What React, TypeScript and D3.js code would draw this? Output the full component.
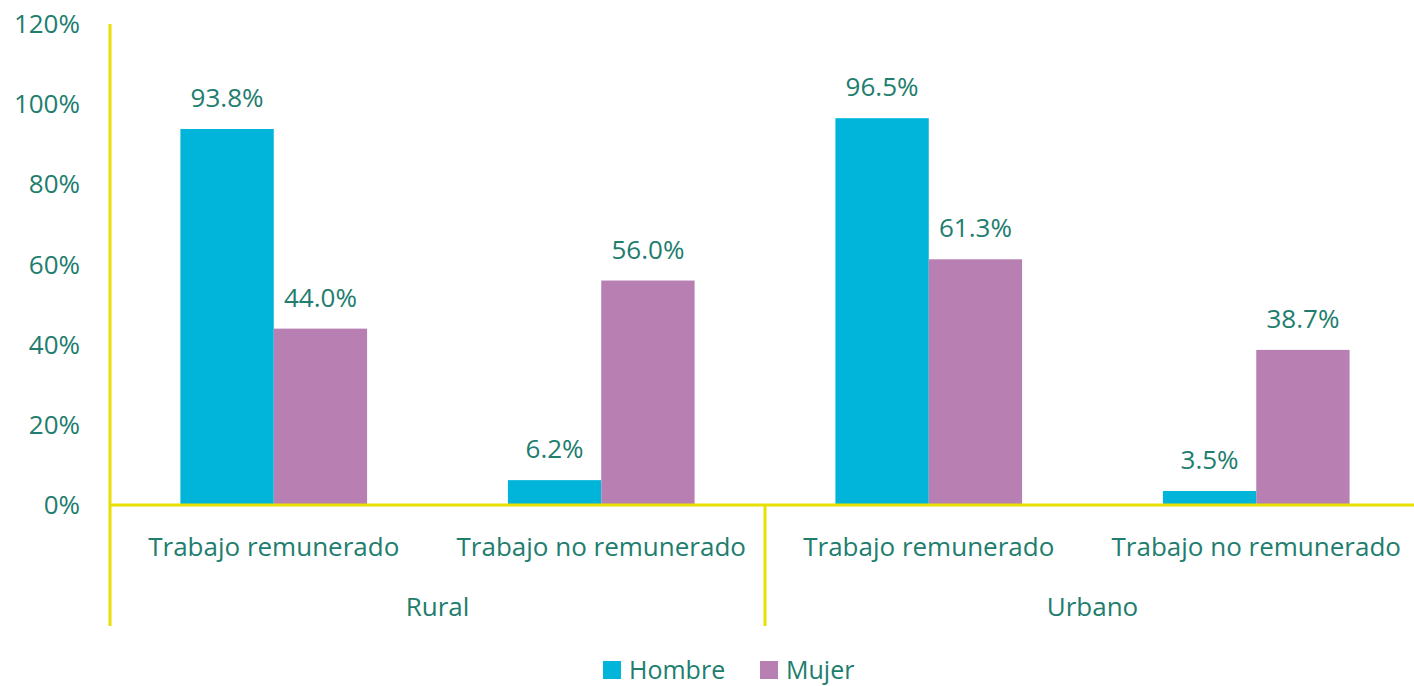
import React from "react";
import * as d3 from "d3";

const groups = ["Rural", "Urbano"];
const categories = ["Trabajo remunerado", "Trabajo no remunerado"];
const seriesNames = ["Hombre", "Mujer"];
const hombre = [93.8, 6.2, 96.5, 3.5];
const mujer = [44.0, 56.0, 61.3, 38.7];
const yTicks = [0, 20, 40, 60, 80, 100, 120];

const W = 1414;
const H = 686;
const left = 110;
const right = 1420;
const top = 24;
const bottom = 505;
const colors = ["#00B5D9", "#B77FB2"];
const textColor = "#217D6E";
const axisColor = "#E8E000";
const font = "'Open Sans', sans-serif";
const fs = 26;

export default function App() {
  const keys = groups.flatMap((g) => categories.map((c) => `${g}|${c}`));
  const x = d3.scaleBand<string>().domain(keys).range([left, right]).paddingInner(0.43).paddingOuter(0.215);
  const xOuter = d3.scaleBand<string>().domain(keys).range([left, right]);
  const y = d3.scaleLinear().domain([0, 120]).range([bottom, top]);
  const xs = d3.scaleBand<string>().domain(seriesNames).range([0, x.bandwidth()]);
  const gx = d3.scaleBand<string>().domain(groups).range([left, right]);
  const values = [hombre, mujer];

  return (
    <svg width={W} height={H} style={{ position: "absolute", left: 0, top: 0, background: "#fff" }} fontFamily={font}>
      {yTicks.map((t) => (
        <text key={t} x={80} y={y(t)} dy="0.35em" textAnchor="end" fontSize={fs} fill={textColor}>
          {t}%
        </text>
      ))}
      {keys.map((k, i) =>
        seriesNames.map((s, j) => {
          const v = values[j][i];
          const bx = (x(k) as number) + (xs(s) as number);
          return (
            <g key={k + s}>
              <rect x={bx} y={y(v)} width={xs.bandwidth()} height={bottom - y(v)} fill={colors[j]} />
              <text x={bx + xs.bandwidth() / 2} y={y(v) - 22} textAnchor="middle" fontSize={fs} fill={textColor}>
                {v.toFixed(1)}%
              </text>
            </g>
          );
        })
      )}
      <line x1={left} x2={left} y1={top} y2={626} stroke={axisColor} strokeWidth={3} />
      <line x1={left} x2={right} y1={bottom} y2={bottom} stroke={axisColor} strokeWidth={3} />
      {groups.slice(1).map((g) => (
        <line key={g} x1={gx(g)} x2={gx(g)} y1={bottom} y2={626} stroke={axisColor} strokeWidth={3} />
      ))}
      {keys.map((k) => (
        <text key={k} x={(xOuter(k) as number) + xOuter.bandwidth() / 2} y={556} textAnchor="middle" fontSize={fs} fill={textColor}>
          {k.split("|")[1]}
        </text>
      ))}
      {groups.map((g) => (
        <text key={g} x={(gx(g) as number) + gx.bandwidth() / 2} y={616} textAnchor="middle" fontSize={fs} fill={textColor}>
          {g}
        </text>
      ))}
      {seriesNames.map((s, j) => {
        const lx = j === 0 ? 603 : 760;
        return (
          <g key={s}>
            <rect x={lx} y={661} width={18} height={18} fill={colors[j]} />
            <text x={lx + 26} y={679} fontSize={25} fill={textColor}>
              {s}
            </text>
          </g>
        );
      })}
    </svg>
  );
}
